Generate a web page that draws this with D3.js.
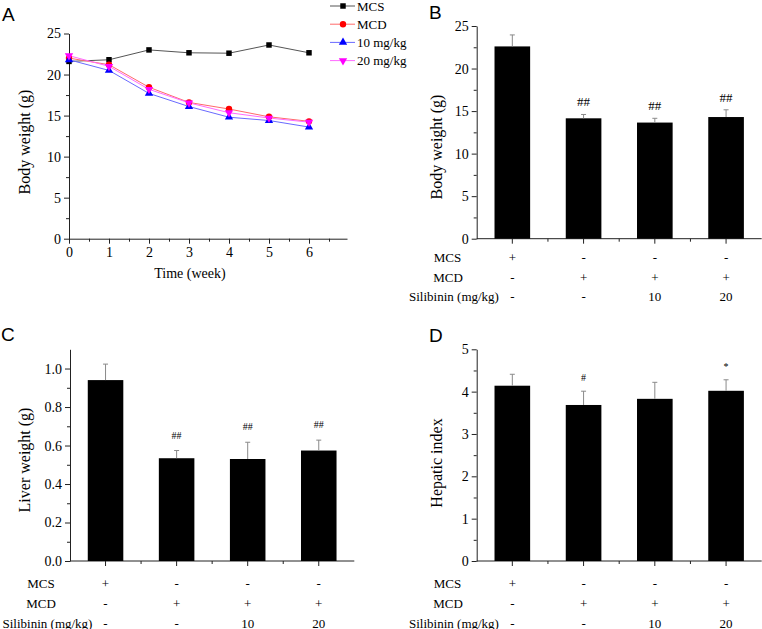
<!DOCTYPE html>
<html><head><meta charset="utf-8">
<script src="https://cdn.jsdelivr.net/npm/d3@7"></script>
<style>
html,body{margin:0;padding:0;background:#fff;}
svg{display:block;}
text{font-family:"Liberation Serif","Times New Roman",serif;fill:#000;}
.plabel{font-family:"Liberation Sans",Arial,sans-serif;font-size:19px;}
</style></head>
<body>
<svg id="fig" width="762" height="629"></svg>
<script>
// ---------- DATA ----------
const weeks = [0, 1, 2, 3, 4, 5, 6];
const seriesNames = ["MCS", "MCD", "10 mg/kg", "20 mg/kg"];
const mcsWeight = [21.6, 21.8, 23.0, 22.65, 22.6, 23.6, 22.65];
const mcdWeight = [22.0, 21.2, 18.45, 16.6, 15.8, 14.85, 14.3];
const dose10Weight = [21.8, 20.5, 17.7, 16.1, 14.8, 14.4, 13.6];
const dose20Weight = [22.3, 21.0, 18.2, 16.55, 15.35, 14.7, 14.2];

const groups = ["MCS", "MCD", "10 mg/kg", "20 mg/kg"];
const bodyWeight = [22.6, 14.15, 13.65, 14.3];
const bodyWeightErr = [1.35, 0.45, 0.5, 0.85];
const bodyWeightSig = ["", "##", "##", "##"];
const liverWeight = [0.94, 0.534, 0.53, 0.574];
const liverWeightErr = [0.083, 0.04, 0.087, 0.054];
const liverWeightSig = ["", "##", "##", "##"];
const hepaticIndex = [4.14, 3.685, 3.83, 4.02];
const hepaticIndexErr = [0.27, 0.325, 0.39, 0.26];
const hepaticIndexSig = ["", "#", "", "*"];

const rowLabels = ["MCS", "MCD", "Silibinin (mg/kg)"];
const rowMCS = ["+", "-", "-", "-"];
const rowMCD = ["-", "+", "+", "+"];
const rowSil = ["-", "-", "10", "20"];

const weekTicks = [0, 1, 2, 3, 4, 5, 6];
const bwTicks = [0, 5, 10, 15, 20, 25];
const lwTicks = [0, 0.2, 0.4, 0.6, 0.8, 1.0];
const hiTicks = [0, 1, 2, 3, 4, 5];

// ---------- DRAW ----------
const svg = d3.select("#fig");
const axisColor = "#222";

function styleAxis(g){
  g.selectAll("path.domain").attr("stroke", axisColor).attr("stroke-width", 1);
  g.selectAll(".tick line").attr("stroke", axisColor);
  g.selectAll(".tick text").style("font-family", '"Liberation Serif","Times New Roman",serif').style("font-size", "14px").attr("fill", "#000");
}

function yAxis(y, x0, ticks, minor, fmt){
  const g = svg.append("g").attr("transform", `translate(${x0},0)`);
  g.call(d3.axisLeft(y).tickValues(minor).tickSize(3).tickFormat(""));
  g.select("path.domain").remove();
  const g2 = svg.append("g").attr("transform", `translate(${x0},0)`);
  g2.call(d3.axisLeft(y).tickValues(ticks).tickSize(5).tickSizeOuter(0).tickPadding(3).tickFormat(fmt));
  styleAxis(g); styleAxis(g2);
}

// ===== Panel A =====
(function(){
  const x = d3.scaleLinear().domain([0, 6.95]).range([69, 347]);
  const y = d3.scaleLinear().domain([0, 25]).range([238.7, 33.5]);
  const gm = svg.append("g").attr("transform", `translate(0,${y(0)})`);
  gm.call(d3.axisBottom(x).tickValues(d3.range(0.5, 6.6, 1)).tickSize(3).tickFormat(""));
  gm.select("path.domain").remove();
  const gx = svg.append("g").attr("transform", `translate(0,${y(0)})`);
  gx.call(d3.axisBottom(x).tickValues(weekTicks).tickSize(5).tickSizeOuter(0).tickPadding(3).tickFormat(d3.format("d")));
  styleAxis(gm); styleAxis(gx);
  yAxis(y, x(0), bwTicks, d3.range(2.5, 25, 5), d3.format("d"));

  svg.append("text").attr("x", 190).attr("y", 278).attr("text-anchor", "middle").style("font-size", "14px").text("Time (week)");
  svg.append("text").attr("transform", "translate(30,142) rotate(-90)").attr("text-anchor", "middle").style("font-size", "16px").text("Body weight (g)");
  svg.append("text").attr("class", "plabel").attr("x", 2).attr("y", 21).text("A");

  const series = [
    {name: seriesNames[0], values: mcsWeight, line: "#555", color: "#000", sym: d3.symbolSquare, rot: 0, size: 30},
    {name: seriesNames[1], values: mcdWeight, line: "#ff6a6a", color: "#ff0000", sym: d3.symbolCircle, rot: 0, size: 32},
    {name: seriesNames[2], values: dose10Weight, line: "#6a6aff", color: "#0000ff", sym: d3.symbolTriangle, rot: 0, size: 30},
    {name: seriesNames[3], values: dose20Weight, line: "#ff6aff", color: "#ff00ff", sym: d3.symbolTriangle, rot: 180, size: 30}
  ];
  const line = d3.line().x((d, i) => x(weeks[i])).y(d => y(d));
  series.forEach(s => {
    svg.append("path").attr("d", line(s.values)).attr("fill", "none").attr("stroke", s.line).attr("stroke-width", 1);
  });
  series.forEach(s => {
    svg.append("g").selectAll("path").data(s.values).join("path")
      .attr("d", d3.symbol().type(s.sym).size(s.size))
      .attr("transform", (d, i) => `translate(${x(weeks[i])},${y(d)}) rotate(${s.rot})`)
      .attr("fill", s.color);
  });
  // legend
  series.forEach((s, i) => {
    const ly = 6 + i * 18.2;
    svg.append("line").attr("x1", 330).attr("x2", 355).attr("y1", ly).attr("y2", ly).attr("stroke", s.line).attr("stroke-width", 1);
    svg.append("path").attr("d", d3.symbol().type(s.sym).size(s.size)).attr("transform", `translate(343,${ly}) rotate(${s.rot})`).attr("fill", s.color);
    svg.append("text").attr("x", 357).attr("y", ly + 4.5).style("font-size", "13px").text(s.name);
  });
})();

// ===== Bar panels =====
function barPanel(opt){
  const x = d3.scaleBand().domain(groups).range([opt.x0, opt.x1]).paddingInner(0.5).paddingOuter(0.25);
  const y = d3.scaleLinear().domain(opt.domain).range([opt.yBottom, opt.yTop]);
  const step = x.step();
  const gx = svg.append("g").attr("transform", `translate(0,${opt.yBottom})`);
  gx.append("line").attr("x1", opt.x0).attr("x2", opt.x1).attr("stroke", axisColor);
  gx.selectAll("line.maj").data(groups).join("line").attr("class", "maj")
    .attr("x1", d => x(d) + x.bandwidth() / 2).attr("x2", d => x(d) + x.bandwidth() / 2)
    .attr("y1", 0).attr("y2", 5).attr("stroke", axisColor);
  gx.selectAll("line.min").data(groups.slice(1)).join("line").attr("class", "min")
    .attr("x1", d => x(d) + x.bandwidth() / 2 - step / 2).attr("x2", d => x(d) + x.bandwidth() / 2 - step / 2)
    .attr("y1", 0).attr("y2", 3).attr("stroke", axisColor);
  yAxis(y, opt.x0, opt.ticks, opt.minor, opt.fmt);

  svg.append("g").selectAll("rect").data(opt.values).join("rect")
    .attr("x", (d, i) => x(groups[i])).attr("width", x.bandwidth())
    .attr("y", d => y(d)).attr("height", d => y(0) - y(d)).attr("fill", "#000");
  const eg = svg.append("g").attr("stroke", "#8a8a8a").attr("stroke-width", 1);
  opt.values.forEach((v, i) => {
    const cx = x(groups[i]) + x.bandwidth() / 2;
    eg.append("line").attr("x1", cx).attr("x2", cx).attr("y1", y(v)).attr("y2", y(v + opt.err[i]));
    eg.append("line").attr("x1", cx - 2.5).attr("x2", cx + 2.5).attr("y1", y(v + opt.err[i])).attr("y2", y(v + opt.err[i]));
  });
  opt.values.forEach((v, i) => {
    if (!opt.sig[i]) return;
    const cx = x(groups[i]) + x.bandwidth() / 2;
    svg.append("text").attr("x", cx).attr("y", y(v + opt.err[i]) - opt.sigGap)
      .attr("text-anchor", "middle").style("font-size", opt.sigSize + "px").text(opt.sig[i]);
  });
  svg.append("text").attr("transform", `translate(${opt.ylabX},${opt.ylabY}) rotate(-90)`).attr("text-anchor", "middle").style("font-size", "16px").text(opt.ylab);
  svg.append("text").attr("class", "plabel").attr("x", opt.px).attr("y", opt.py).text(opt.plabel);
  const rows = [rowMCS, rowMCD, rowSil];
  rows.forEach((r, ri) => {
    const ty = opt.tableY + ri * opt.rowGap;
    svg.append("text").attr("x", opt.rowLabelX[ri]).attr("y", ty).attr("text-anchor", "middle").style("font-size", "13px").text(rowLabels[ri]);
    r.forEach((s, ci) => {
      svg.append("text").attr("x", x(groups[ci]) + x.bandwidth() / 2).attr("y", ty)
        .attr("text-anchor", "middle").style("font-size", "13px").text(s);
    });
  });
}

barPanel({
  x0: 476.7, x1: 761.7, yBottom: 238.7, yTop: 26, domain: [0, 25],
  ticks: bwTicks, minor: d3.range(2.5, 25, 5), fmt: d3.format("d"),
  values: bodyWeight, err: bodyWeightErr, sig: bodyWeightSig, sigGap: 8, sigSize: 13,
  ylab: "Body weight (g)", ylabX: 442, ylabY: 147, plabel: "B", px: 429, py: 19,
  tableY: 262, rowGap: 19.5, rowLabelX: [447.5, 448, 454]
});
barPanel({
  x0: 70, x1: 354.3, yBottom: 561, yTop: 349.3, domain: [0, 1.1],
  ticks: lwTicks, minor: d3.range(0.1, 1.1, 0.2), fmt: d3.format(".1f"),
  values: liverWeight, err: liverWeightErr, sig: liverWeightSig, sigGap: 12, sigSize: 10,
  ylab: "Liver weight (g)", ylabX: 30, ylabY: 460, plabel: "C", px: 1, py: 341,
  tableY: 587.5, rowGap: 20, rowLabelX: [41, 41, 47.5]
});
barPanel({
  x0: 476.7, x1: 761.7, yBottom: 561, yTop: 349.3, domain: [0, 5],
  ticks: hiTicks, minor: d3.range(0.5, 5, 1), fmt: d3.format("d"),
  values: hepaticIndex, err: hepaticIndexErr, sig: hepaticIndexSig, sigGap: 10, sigSize: 10,
  ylab: "Hepatic index", ylabX: 442, ylabY: 463, plabel: "D", px: 429, py: 342,
  tableY: 587.5, rowGap: 20, rowLabelX: [447.5, 448, 454]
});
</script>
</body></html>
